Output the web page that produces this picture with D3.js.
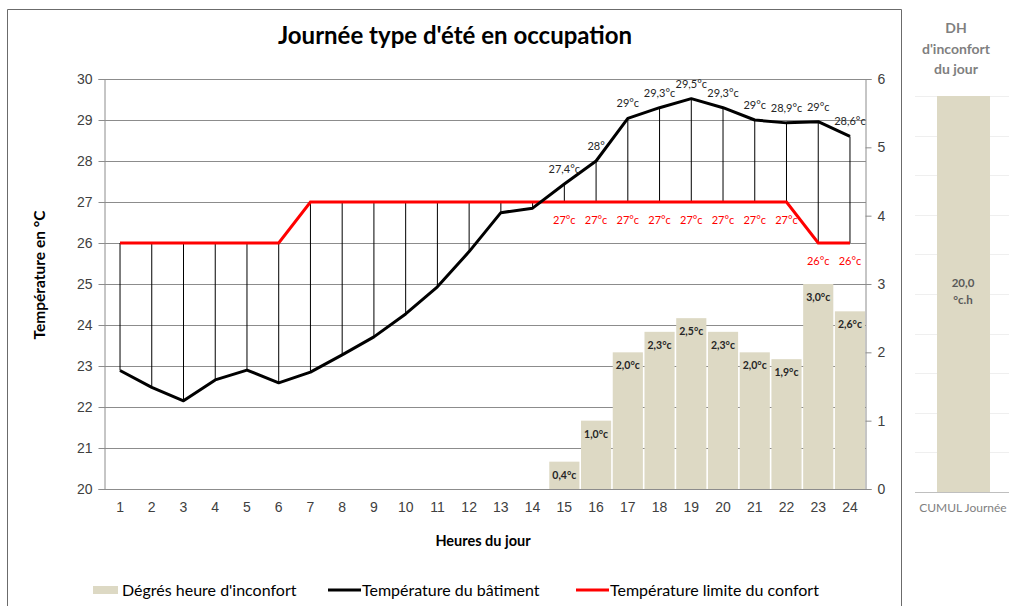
<!DOCTYPE html>
<html>
<head>
<meta charset="utf-8">
<script src="https://cdn.jsdelivr.net/npm/d3@7"></script>
<style>
  body { margin: 0; background: #fff; }
  svg { display: block; font-family: Lato, "Open Sans", sans-serif; }
  .tick-label { fill: #404040; font-size: 14px; }
</style>
</head>
<body>
<div id="chart"></div>
<script>
// chart data
var hours = [1, 2, 3, 4, 5, 6, 7, 8, 9, 10, 11, 12, 13, 14, 15, 16, 17, 18, 19, 20, 21, 22, 23, 24];
var temperature = [22.89, 22.48, 22.15, 22.66, 22.9, 22.59, 22.85, 23.27, 23.71, 24.27, 24.93, 25.79,
  26.74, 26.85, 27.44, 28.0, 29.04, 29.3, 29.52, 29.3, 29.0, 28.93, 28.96, 28.6];
var limit = [26, 26, 26, 26, 26, 26, 27, 27, 27, 27, 27, 27, 27, 27, 27, 27, 27, 27, 27, 27, 27, 27, 26, 26];
var dh = [0, 0, 0, 0, 0, 0, 0, 0, 0, 0, 0, 0, 0, 0, 0.4, 1.0, 2.0, 2.3, 2.5, 2.3, 2.0, 1.9, 3.0, 2.6];
var dhLabels = ["", "", "", "", "", "", "", "", "", "", "", "", "", "",
  "0,4°c", "1,0°c", "2,0°c", "2,3°c", "2,5°c", "2,3°c", "2,0°c", "1,9°c", "3,0°c", "2,6°c"];
var tempLabels = ["", "", "", "", "", "", "", "", "", "", "", "", "", "",
  "27,4°c", "28°", "29°c", "29,3°c", "29,5°c", "29,3°c", "29°c", "28,9°c", "29°c", "28,6°c"];
var limitLabels = ["", "", "", "", "", "", "", "", "", "", "", "", "", "",
  "27°c", "27°c", "27°c", "27°c", "27°c", "27°c", "27°c", "27°c", "26°c", "26°c"];
var tempTicks = [20, 21, 22, 23, 24, 25, 26, 27, 28, 29, 30];
var dhTicks = [0, 1, 2, 3, 4, 5, 6];
var cumul = 20.0;
var cumulTicks = [0, 2, 4, 6, 8, 10, 12, 14, 16, 18, 20];

var svgWidth = 1009;
var svgHeight = 606;
var barColor = "#ddd9c4";

var svg = d3.select("#chart")
  .append("svg")
  .attr("width", svgWidth)
  .attr("height", svgHeight);

svg.append("rect")
  .attr("width", svgWidth)
  .attr("height", svgHeight)
  .attr("fill", "#fff");

// frame around the main chart + divider
svg.append("path")
  .attr("d", "M7.5,606 V9.5 H901.5 V606")
  .attr("fill", "none")
  .attr("stroke", "#6b6b6b")
  .attr("stroke-width", 1);

// scales
var x = d3.scaleBand()
  .domain(hours)
  .range([104, 866])
  .paddingInner(0.05)
  .paddingOuter(0.03);

var xc = function(h) { return x(h) + x.bandwidth() / 2; };

var yT = d3.scaleLinear().domain([20, 30]).range([489, 79]);
var yD = d3.scaleLinear().domain([0, 6]).range([489, 79]);

// gridlines
svg.append("g")
  .selectAll("line")
  .data(tempTicks.slice(1))
  .enter()
  .append("line")
  .attr("x1", 104)
  .attr("x2", 866)
  .attr("y1", d => Math.round(yT(d)) + 0.5)
  .attr("y2", d => Math.round(yT(d)) + 0.5)
  .attr("stroke", "#8c8c8c")
  .attr("stroke-width", 1);

// discomfort bars
var idx = d3.range(hours.length);
svg.append("g")
  .selectAll("rect")
  .data(idx.filter(i => dh[i] > 0))
  .enter()
  .append("rect")
  .attr("x", i => x(hours[i]))
  .attr("width", x.bandwidth())
  .attr("y", i => yD(dh[i]))
  .attr("height", i => yD(0) - yD(dh[i]))
  .attr("fill", barColor);

// axes
var leftAxis = d3.axisLeft(yT).tickValues(tempTicks).tickSize(6).tickPadding(6);
var gl = svg.append("g").attr("transform", "translate(104.5,0)").call(leftAxis);
gl.select(".domain").attr("stroke", "#8c8c8c");
gl.selectAll(".tick line").attr("stroke", "#8c8c8c");
gl.selectAll("text").attr("class", "tick-label").attr("font-family", null).attr("font-size", null);

var rightAxis = d3.axisRight(yD).tickValues(dhTicks).tickFormat(d3.format("d")).tickSize(6).tickPadding(6);
var gr = svg.append("g").attr("transform", "translate(865.5,0)").call(rightAxis);
gr.select(".domain").attr("stroke", "#8c8c8c");
gr.selectAll(".tick line").attr("stroke", "#8c8c8c");
gr.selectAll("text").attr("class", "tick-label").attr("font-family", null).attr("font-size", null);

var bottomAxis = d3.axisBottom(x).tickSize(0).tickPadding(13);
var gb = svg.append("g").attr("transform", "translate(0,489.5)").call(bottomAxis);
gb.select(".domain").attr("stroke", "#8c8c8c").attr("d", "M104,0H866");
gb.selectAll("text").attr("class", "tick-label").attr("font-family", null).attr("font-size", null);

// drop lines between building temperature and comfort limit
svg.append("g")
  .selectAll("line")
  .data(idx)
  .enter()
  .append("line")
  .attr("x1", i => xc(hours[i]))
  .attr("x2", i => xc(hours[i]))
  .attr("y1", i => yT(temperature[i]))
  .attr("y2", i => yT(limit[i]))
  .attr("stroke", "#000")
  .attr("stroke-width", 1);

var lineT = d3.line()
  .x(i => xc(hours[i]))
  .y(i => yT(temperature[i]));

var lineL = d3.line()
  .x(i => xc(hours[i]))
  .y(i => yT(limit[i]));

svg.append("path")
  .datum(idx)
  .attr("d", lineL)
  .attr("fill", "none")
  .attr("stroke", "#ff0000")
  .attr("stroke-width", 3);

svg.append("path")
  .datum(idx)
  .attr("d", lineT)
  .attr("fill", "none")
  .attr("stroke", "#000")
  .attr("stroke-width", 3)
  .attr("stroke-linejoin", "round");

// value labels
svg.append("g")
  .selectAll("text")
  .data(idx.filter(i => tempLabels[i]))
  .enter()
  .append("text")
  .attr("x", i => xc(hours[i]))
  .attr("y", i => yT(temperature[i]) - 11)
  .attr("text-anchor", "middle")
  .attr("font-size", 11)
  .attr("fill", "#262626")
  .text(i => tempLabels[i]);

svg.append("g")
  .selectAll("text")
  .data(idx.filter(i => limitLabels[i]))
  .enter()
  .append("text")
  .attr("x", i => xc(hours[i]))
  .attr("y", i => yT(limit[i]) + 22)
  .attr("text-anchor", "middle")
  .attr("font-size", 11)
  .attr("fill", "#ff0000")
  .text(i => limitLabels[i]);

svg.append("g")
  .selectAll("text")
  .data(idx.filter(i => dhLabels[i]))
  .enter()
  .append("text")
  .attr("x", i => xc(hours[i]))
  .attr("y", i => yD(dh[i]) + 17)
  .attr("text-anchor", "middle")
  .attr("font-size", 10.5)
  .attr("font-weight", "bold")
  .attr("fill", "#262626")
  .text(i => dhLabels[i]);

// titles
svg.append("text")
  .attr("x", 455)
  .attr("y", 44)
  .attr("text-anchor", "middle")
  .attr("font-size", 24)
  .attr("font-weight", "bold")
  .attr("fill", "#000")
  .text("Journée type d'été en occupation");

svg.append("text")
  .attr("transform", "translate(45,275)rotate(-90)")
  .attr("text-anchor", "middle")
  .attr("font-size", 15.5)
  .attr("font-weight", "bold")
  .text("Température en °C");

svg.append("text")
  .attr("x", 483)
  .attr("y", 546)
  .attr("text-anchor", "middle")
  .attr("font-size", 14.5)
  .attr("font-weight", "bold")
  .text("Heures du jour");

// legend
var legend = svg.append("g").attr("transform", "translate(0,590)");
legend.append("rect").attr("x", 93).attr("y", -4).attr("width", 25).attr("height", 8).attr("fill", barColor);
legend.append("text").attr("x", 122).attr("y", 5.5).attr("font-size", 16).text("Dégrés heure d'inconfort");
legend.append("line").attr("x1", 328).attr("x2", 361).attr("y1", 0).attr("y2", 0)
  .attr("stroke", "#000").attr("stroke-width", 3);
legend.append("text").attr("x", 362).attr("y", 5.5).attr("font-size", 16).text("Température du bâtiment");
legend.append("line").attr("x1", 576).attr("x2", 609).attr("y1", 0).attr("y2", 0)
  .attr("stroke", "#ff0000").attr("stroke-width", 3);
legend.append("text").attr("x", 610).attr("y", 5.5).attr("font-size", 16).text("Température limite du confort");

// right panel: daily cumulated discomfort
var yC = d3.scaleLinear().domain([0, 20]).range([492, 96]);

svg.append("g")
  .selectAll("line")
  .data(cumulTicks.slice(1))
  .enter()
  .append("line")
  .attr("x1", 915)
  .attr("x2", 1009)
  .attr("y1", d => Math.round(yC(d)) + 0.5)
  .attr("y2", d => Math.round(yC(d)) + 0.5)
  .attr("stroke", "#efefef");

svg.append("rect")
  .attr("x", 937)
  .attr("width", 53)
  .attr("y", yC(cumul))
  .attr("height", yC(0) - yC(cumul))
  .attr("fill", barColor);

svg.append("line")
  .attr("x1", 915).attr("x2", 1009)
  .attr("y1", 492.5).attr("y2", 492.5)
  .attr("stroke", "#bfbfbf");

var panelTitle = ["DH", "d'inconfort", "du jour"];
svg.append("g")
  .selectAll("text")
  .data(panelTitle)
  .enter()
  .append("text")
  .attr("x", 956)
  .attr("y", (d, i) => 33 + i * 20.5)
  .attr("text-anchor", "middle")
  .attr("font-size", 14)
  .attr("font-weight", "bold")
  .attr("fill", "#7f7f7f")
  .text(d => d);

svg.append("text")
  .attr("x", 963)
  .attr("y", yC(cumul / 2) - 7)
  .attr("text-anchor", "middle")
  .attr("font-size", 11.5)
  .attr("font-weight", "bold")
  .attr("fill", "#595959")
  .text(d3.format(".1f")(cumul).replace(".", ","));

svg.append("text")
  .attr("x", 963)
  .attr("y", yC(cumul / 2) + 10)
  .attr("text-anchor", "middle")
  .attr("font-size", 11.5)
  .attr("font-weight", "bold")
  .attr("fill", "#595959")
  .text("°c.h");

svg.append("text")
  .attr("x", 963)
  .attr("y", 512)
  .attr("text-anchor", "middle")
  .attr("font-size", 12)
  .attr("fill", "#7f7f7f")
  .text("CUMUL Journée");
</script>
</body>
</html>
